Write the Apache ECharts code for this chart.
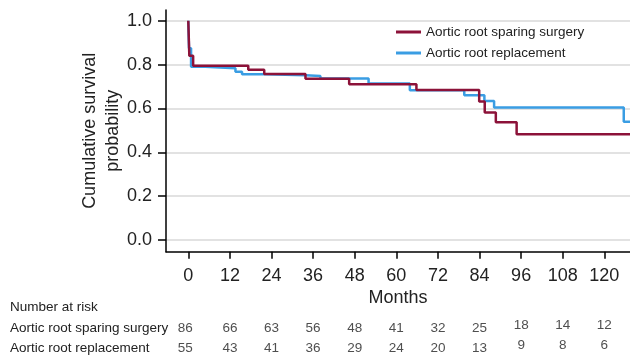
<!DOCTYPE html>
<html>
<head>
<meta charset="utf-8">
<script src="https://cdn.jsdelivr.net/npm/echarts@6/dist/echarts.min.js"></script>
<style>html,body{margin:0;padding:0;background:#fff;}#c{width:630px;height:359px;}</style>
</head>
<body>
<div id="c"></div>
<script>
// ---- data ----
const seriesNames = ['Aortic root sparing surgery', 'Aortic root replacement'];
// [month, survival] — survival holds from that month until the next point
const sparingCurve = [[0,1.0],[0.3,0.84],[1.4,0.795],[17.3,0.777],[21.9,0.757],[33.8,0.735],[46.4,0.711],[65.8,0.684],[83.9,0.632],[85.5,0.582],[88.7,0.537],[94.7,0.483],[127.4,0.483]];
const replacementCurve = [[0,1.0],[0.2,0.875],[0.8,0.79],[4.9,0.783],[13.6,0.768],[15.5,0.756],[22.2,0.752],[33.8,0.748],[38.1,0.737],[52,0.714],[63.9,0.683],[79.6,0.66],[85.4,0.634],[88.2,0.605],[125.6,0.54],[127.4,0.54]];
const xTicks = [0,12,24,36,48,60,72,84,96,108,120];
const yTicks = [0,0.2,0.4,0.6,0.8,1.0];
const riskTimes = [0,12,24,36,48,60,72,84,96,108,120];
const riskSparing = [86,66,63,56,48,41,32,25,18,14,12];
const riskReplacement = [55,43,41,36,29,24,20,13,9,8,6];

const RED = '#8c1239', BLUE = '#3a9de3';
const FONT = 'Liberation Sans, Arial, Helvetica, sans-serif';
const TXT = '#222';

function riskData(rowName, arr) {
  return arr.map((v, i) => ({
    value: [riskTimes[i], rowName, v],
    label: { offset: i === 0 ? [-3, 0] : (i >= 8 ? [0, -3] : [0, 0]) }
  }));
}

const chart = echarts.init(document.getElementById('c'), null, {renderer: 'canvas'});
chart.setOption({
  animation: false,
  textStyle: { fontFamily: FONT, color: TXT },
  title: {
    text: 'Number at risk', left: 10, top: 300, padding: 0,
    textStyle: { fontFamily: FONT, fontSize: 13.5, fontWeight: 'normal', color: TXT }
  },
  legend: {
    data: seriesNames, orient: 'vertical', left: 396, top: 25, padding: 0,
    icon: 'rect', itemWidth: 25, itemHeight: 3, itemGap: 7,
    textStyle: { fontFamily: FONT, fontSize: 13.5, color: TXT }
  },
  grid: [
    { left: 166, right: 0, top: 10, height: 241.7 },
    { left: 166, right: 0, top: 318, height: 44 }
  ],
  xAxis: [{
    gridIndex: 0, type: 'value', min: -6.43, max: 127.4,
    name: 'Months', nameLocation: 'middle', nameGap: 37, nameMoveOverlap: false,
    nameTextStyle: { fontFamily: FONT, fontSize: 18, color: TXT },
    axisLine: { show: true, onZero: false, lineStyle: { color: '#000', width: 1.5 } },
    axisTick: { show: true, length: 7, customValues: xTicks, lineStyle: { color: '#000', width: 1.5 } },
    axisLabel: { customValues: xTicks, margin: 15, fontFamily: FONT, fontSize: 18, color: TXT },
    splitLine: { show: false }
  }, {
    gridIndex: 1, type: 'value', min: -6.43, max: 127.4, show: false
  }],
  yAxis: [{
    gridIndex: 0, type: 'value', min: -0.053, max: 1.049,
    name: 'Cumulative survival\nprobability', nameLocation: 'middle', nameGap: 41, nameMoveOverlap: false,
    nameTextStyle: { fontFamily: FONT, fontSize: 18, color: TXT, lineHeight: 23 },
    axisLine: { show: true, onZero: false, lineStyle: { color: '#000', width: 1.5 } },
    axisTick: { show: true, length: 8, customValues: yTicks, lineStyle: { color: '#000', width: 1.5 } },
    axisLabel: { customValues: yTicks, margin: 14, fontFamily: FONT, fontSize: 18, color: TXT,
      formatter: v => v.toFixed(1) },
    splitLine: { show: true, lineStyle: { color: '#d9d9d9', width: 1.5 } }
  }, {
    gridIndex: 1, type: 'category', inverse: true, data: seriesNames,
    axisLine: { show: false }, axisTick: { show: false }, splitLine: { show: false },
    axisLabel: { align: 'left', margin: 156, fontFamily: FONT, fontSize: 13.5, color: TXT }
  }],
  series: [{
    name: seriesNames[0], type: 'line', step: 'end', data: sparingCurve,
    xAxisIndex: 0, yAxisIndex: 0, symbol: 'none', z: 3,
    lineStyle: { color: RED, width: 2.5 }, itemStyle: { color: RED }
  }, {
    name: seriesNames[1], type: 'line', step: 'end', data: replacementCurve,
    xAxisIndex: 0, yAxisIndex: 0, symbol: 'none', z: 2,
    lineStyle: { color: BLUE, width: 2.5 }, itemStyle: { color: BLUE }
  }, {
    type: 'scatter', xAxisIndex: 1, yAxisIndex: 1, symbolSize: 0,
    data: riskData(seriesNames[0], riskSparing),
    label: { show: true, position: 'inside', formatter: p => p.value[2],
      fontFamily: FONT, fontSize: 13.5, color: TXT }
  }, {
    type: 'scatter', xAxisIndex: 1, yAxisIndex: 1, symbolSize: 0,
    data: riskData(seriesNames[1], riskReplacement),
    label: { show: true, position: 'inside', formatter: p => p.value[2],
      fontFamily: FONT, fontSize: 13.5, color: TXT }
  }]
});
</script>
</body>
</html>
